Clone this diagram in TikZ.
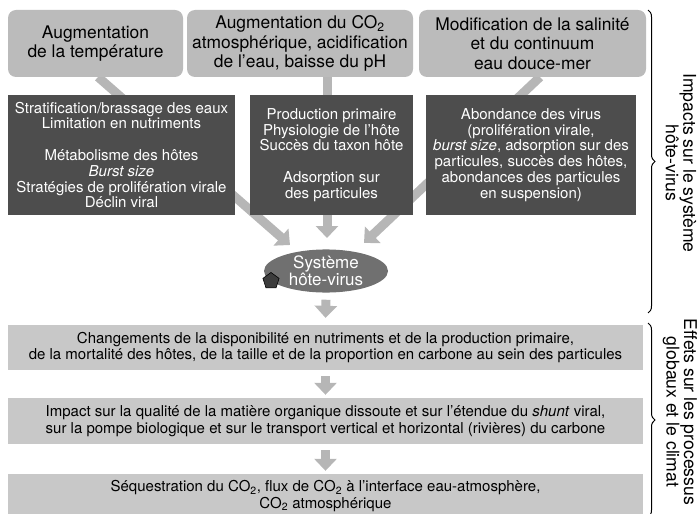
\documentclass[tikz,border=0pt]{standalone}
\usepackage{fontspec}
\setmainfont{TeX Gyre Heros}
\usetikzlibrary{arrows.meta,shapes.geometric,decorations.pathreplacing,backgrounds}
\definecolor{topgray}{RGB}{187,187,187}
\definecolor{darkbox}{RGB}{77,77,77}
\definecolor{botgray}{RGB}{200,200,200}
\definecolor{arrowgray}{RGB}{182,182,182}
\definecolor{ellgray}{RGB}{112,112,112}
\definecolor{pentgray}{RGB}{60,60,60}
\begin{document}
\begin{tikzpicture}[x=1pt,y=-1pt,
  topbox/.style={fill=topgray, rounded corners=8pt, align=center, inner sep=0pt,
    minimum height=67pt, font=\fontsize{17.4}{19.5}\selectfont},
  darkbx/.style={fill=darkbox, text=white, align=center, inner sep=0pt,
    minimum height=120pt, font=\fontsize{15}{15.8}\selectfont},
  botbox/.style={fill=botgray, align=center, inner sep=0pt, minimum width=635pt,
    font=\fontsize{15}{16.5}\selectfont},
  bigarrow/.style={draw=arrowgray, line width=9pt, -{Triangle[width=22pt,length=12pt]}},
  bracelab/.style={rotate=-90, align=center, font=\fontsize{17.6}{17.5}\selectfont},
  bracestyle/.style={decorate, decoration={brace, amplitude=7pt}, line width=1pt}]
\clip (0,0) rectangle (700,513);

% top boxes
\node[topbox, minimum width=175pt] (t1) at (95.5,43.5) {Augmentation\\de la température};
\node[topbox, minimum width=226pt] (t2) at (300,43.5) {Augmentation du CO\textsubscript{2}\\atmosphérique, acidification\\de l’eau, baisse du pH};
\node[topbox, minimum width=227pt] (t3) at (532.5,43.5) {Modification de la salinité\\et du continuum\\eau douce-mer};

% dark boxes
\node[darkbx, minimum width=227pt] (dA) at (121.5,155) {Stratification/brassage des eaux\\Limitation en nutriments\\[15.8pt]Métabolisme des hôtes\\\textit{Burst size}\\Stratégies de prolifération virale\\Déclin viral};
\node[darkbx, minimum width=163pt] (dB) at (331.5,155) {Production primaire\\Physiologie de l’hôte\\Succès du taxon hôte\\[15.8pt]Adsorption sur\\des particules};
\node[darkbx, minimum width=210pt] (dC) at (531,155) {Abondance des virus\\(prolifération virale,\\\textit{burst size}, adsorption sur des\\particules, succès des hôtes,\\abondances des particules\\en suspension)};

% host-virus system
\node[ellipse, fill=ellgray, text=white, minimum width=124pt, minimum height=38pt, inner sep=0pt,
  align=center, font=\fontsize{17}{17.5}\selectfont] (sys) at (326,271) {Système\\hôte-virus};
\node[regular polygon, regular polygon sides=5, minimum size=17pt, inner sep=0pt,
  fill=pentgray, draw=black, line width=0.6pt] (pent) at (271,281) {};

% bottom boxes
\node[botbox, minimum height=45pt] (b1) at (325.5,347.5) {Changements de la disponibilité en nutriments et de la production primaire,\\de la mortalité des hôtes, de la taille et de la proportion en carbone au sein des particules};
\node[botbox, minimum height=46pt] (b2) at (325.5,421) {Impact sur la qualité de la matière organique dissoute et sur l’étendue du \textit{shunt} viral,\\sur la pompe biologique et sur le transport vertical et horizontal (rivières) du carbone};
\node[botbox, minimum height=44pt] (b3) at (325.5,496) {Séquestration du CO\textsubscript{2}, flux de CO\textsubscript{2} à l’interface eau-atmosphère,\\CO\textsubscript{2} atmosphérique};

% arrow targets
\coordinate (cL) at (290,245);
\coordinate (cM) at (327,238);
\coordinate (cR) at (364,243);
\coordinate (sL) at (98,77);
\coordinate (sM) at (327,77);
\coordinate (sR) at (540,77);

\begin{scope}[on background layer]
\draw[bigarrow] (sL) -- (cL);
\draw[bigarrow] (sM) -- (cM);
\draw[bigarrow] (sR) -- (cR);
\draw[bigarrow] ([yshift=-7pt]sys.south) -- ([yshift=7pt]b1.north);
\draw[bigarrow] ([yshift=-6pt]b1.south) -- ([yshift=3pt]b2.north);
\draw[bigarrow] ([yshift=-6pt]b2.south) -- ([yshift=3pt]b3.north);
\end{scope}

% braces
\coordinate (br1a) at (648,10);
\coordinate (br1b) at (648,313);
\coordinate (br2a) at (648,323);
\coordinate (br2b) at (648,517);
\draw[bracestyle] (br1a) -- (br1b);
\draw[bracestyle] (br2a) -- (br2b);
\node[bracelab] (lab1) at (681,163) {Impacts sur le système\\hôte-virus};
\node[bracelab] (lab2) at (680,412) {Effets sur les processus\\globaux et le climat};
\end{tikzpicture}
\end{document}
